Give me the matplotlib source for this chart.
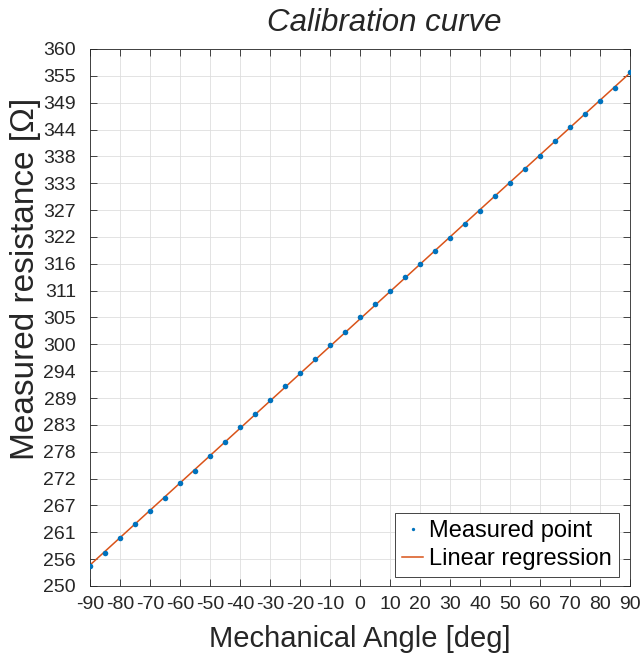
import matplotlib
matplotlib.use('Agg')
import matplotlib.pyplot as plt
import numpy as np

angles = [-90, -85, -80, -75, -70, -65, -60, -55, -50, -45, -40, -35, -30,
          -25, -20, -15, -10, -5, 0, 5, 10, 15, 20, 25, 30, 35, 40, 45, 50,
          55, 60, 65, 70, 75, 80, 85, 90]
resistance = [254.1, 256.8, 259.9, 262.7, 265.4, 268.1, 271.2, 273.6, 276.6,
              279.4, 282.5, 285.2, 288.0, 291.0, 293.6, 296.5, 299.3, 302.0,
              305.1, 307.8, 310.5, 313.2, 316.0, 318.6, 321.3, 324.1, 326.9,
              329.9, 332.6, 335.4, 338.1, 341.2, 344.0, 346.7, 349.3, 352.1,
              355.2]

x_ticks = [-90, -80, -70, -60, -50, -40, -30, -20, -10, 0,
           10, 20, 30, 40, 50, 60, 70, 80, 90]
y_tick_labels = ['250', '256', '261', '267', '272', '278', '283', '289', '294',
                 '300', '305', '311', '316', '322', '327', '333', '338', '344',
                 '349', '355', '360']

plt.rcParams['font.family'] = ['Liberation Sans', 'DejaVu Sans']
plt.rcParams['axes.unicode_minus'] = False

blue = '#0072BD'
orange = '#D95319'
dark = '#262626'

fig = plt.figure(figsize=(6.41, 6.56), dpi=100)
ax = fig.add_axes([90 / 641, 70 / 656, 540 / 641, 537 / 656])

# linear regression of the measured points
coef = np.polyfit(angles, resistance, 1)
fit = np.polyval(coef, angles)

ax.plot(angles, resistance, 'o', color=blue, markersize=4, markeredgewidth=0,
        label='Measured point', zorder=3)
ax.plot(angles, fit, '-', color=orange, linewidth=1.1,
        label='Linear regression', zorder=2)

ax.set_xlim(-90, 90)
ax.set_ylim(250, 360)
ax.set_xticks(x_ticks)
ax.set_yticks(np.linspace(250, 360, len(y_tick_labels)))
ax.set_yticklabels(y_tick_labels)

ax.tick_params(axis='both', direction='in', length=5, width=0.6,
               color=dark, labelcolor=dark, labelsize=14,
               top=True, right=True)
ax.tick_params(axis='x', pad=7)
ax.tick_params(axis='y', pad=10)

for sp in ax.spines.values():
    sp.set_linewidth(0.6)
    sp.set_color(dark)

ax.grid(True, color='#dedede', linewidth=0.6)
ax.set_axisbelow(True)

ax.set_xlabel('Mechanical Angle [deg]', fontsize=21, color=dark)
ax.xaxis.set_label_coords(0.5, -0.072)
ax.set_ylabel('Measured resistance [Ω]', fontsize=24, color=dark)
ax.yaxis.set_label_coords(-0.09, 0.572)

fig.text(384 / 641, 1 - 31 / 656, 'Calibration curve', ha='center',
         va='baseline', fontsize=22.5, style='italic', color=dark)

leg = ax.legend(loc='lower right', bbox_to_anchor=(0.9796, 0.0162),
                borderaxespad=0, fontsize=17, fancybox=False, framealpha=1,
                edgecolor=dark, borderpad=0.3, labelspacing=0.25,
                handletextpad=0.25, handlelength=0.9, markerscale=0.6)
leg.get_frame().set_linewidth(0.6)
for t in leg.get_texts():
    t.set_color('black')

fig.savefig('out.png', dpi=100)
